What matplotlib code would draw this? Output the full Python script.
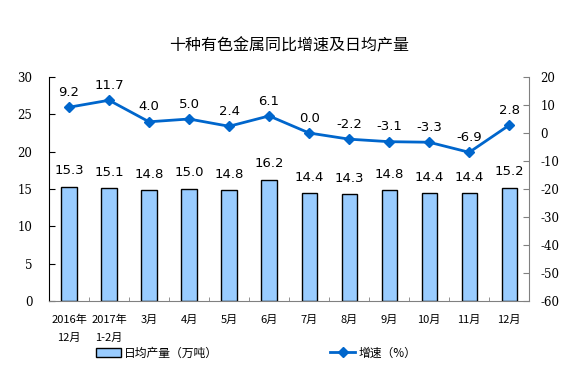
import numpy as np
import matplotlib.pyplot as plt
from matplotlib.patches import Patch
from matplotlib.lines import Line2D

plt.rcParams['font.family'] = ['Noto Sans CJK SC', 'DejaVu Sans']
plt.rcParams['axes.unicode_minus'] = False

months = ["2016年\n12月", "2017年\n1-2月", "3月", "4月", "5月", "6月",
          "7月", "8月", "9月", "10月", "11月", "12月"]
output = [15.3, 15.1, 14.8, 15.0, 14.8, 16.2, 14.4, 14.3, 14.8, 14.4, 14.4, 15.2]
growth = [9.2, 11.7, 4.0, 5.0, 2.4, 6.1, 0.0, -2.2, -3.1, -3.3, -6.9, 2.8]

bar_color = "#99CCFF"
line_color = "#0066CC"

fig = plt.figure(figsize=(5.67, 3.78), dpi=100)
ax = fig.add_axes([0.0864, 0.2037, 0.847, 0.5926])
x = np.arange(len(months))

ax.bar(x, output, width=0.38, color=bar_color, edgecolor="black", linewidth=1.0, zorder=2)
ax.set_xlim(-0.5, len(months) - 0.5)
ax.set_ylim(0, 30)
ax.set_yticks(np.arange(0, 31, 5))
for xi, v in zip(x, output):
    ax.annotate(f"{v:.1f}", (xi, v), xytext=(0, 7), textcoords="offset points",
                ha="center", va="bottom", fontsize=9.5, family="DejaVu Sans")

ax2 = ax.twinx()
ax2.plot(x, growth, color=line_color, linewidth=2, marker="D", markersize=5, zorder=3)
ax2.set_ylim(-60, 20)
ax2.set_yticks(np.arange(-60, 21, 10))
for xi, v in zip(x, growth):
    ax2.annotate(f"{v:.1f}", (xi, v), xytext=(0, 6), textcoords="offset points",
                 ha="center", va="bottom", fontsize=9.5, family="DejaVu Sans")

# axes styling
ax.set_xticks(x)
ax.set_xticklabels(months, fontsize=8, linespacing=1.9)
ax.set_xticks(np.arange(-0.5, len(months), 1), minor=True)
ax.tick_params(axis="x", which="major", length=0, pad=10)
ax.tick_params(axis="x", which="minor", direction="in", length=3, color="#808080")
ax.tick_params(axis="y", direction="in", length=4, labelsize=8.5, pad=12)
ax2.tick_params(axis="y", direction="in", length=4, labelsize=8.5, color="#808080", pad=8)
for lab in ax.get_yticklabels() + ax2.get_yticklabels():
    lab.set_family("DejaVu Serif")

ax.spines["top"].set_visible(False)
ax2.spines["top"].set_visible(False)
ax.spines["left"].set_color("black")
ax2.spines["left"].set_visible(False)
ax2.spines["right"].set_color("#808080")
ax.spines["right"].set_visible(False)
ax.spines["bottom"].set_color("#808080")
ax2.spines["bottom"].set_visible(False)

fig.text(0.51, 0.878, "十种有色金属同比增速及日均产量", ha="center", va="center",
         fontsize=11.5, fontweight="medium")

handles = [Patch(facecolor=bar_color, edgecolor="black", linewidth=1.0),
           Line2D([0], [0], color=line_color, linewidth=2, marker="D", markersize=5)]
fig.legend(handles, ["日均产量（万吨）", "增速（%）"], loc="center", bbox_to_anchor=(0.452, 0.066),
           ncol=2, frameon=False, fontsize=8.5, columnspacing=9.5, handlelength=2.1, handletextpad=0.3)

fig.savefig("out.png", dpi=100)
